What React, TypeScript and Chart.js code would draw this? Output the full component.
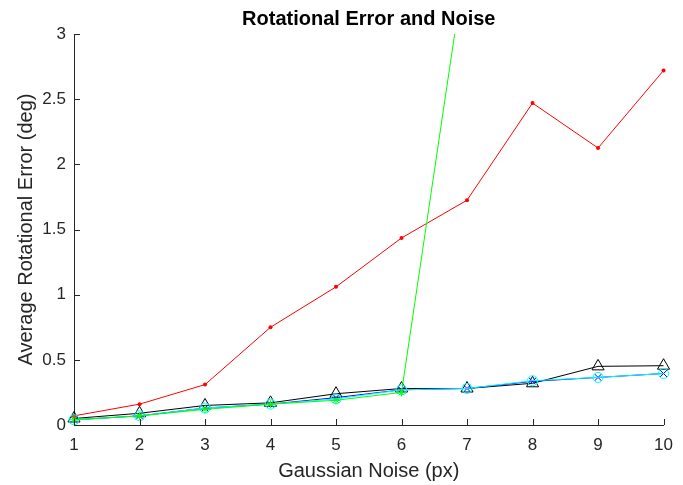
import React, { useEffect, useRef } from "react";
import { Chart, registerables } from "chart.js";

Chart.register(...registerables);

const noiseLevels = [1, 2, 3, 4, 5, 6, 7, 8, 9, 10];
const redValues = [0.07, 0.16, 0.31, 0.75, 1.06, 1.435, 1.725, 2.47, 2.125, 2.72];
const greenValues = [0.04, 0.07, 0.12, 0.16, 0.19, 0.25, 3.64, 4.6, 5.3, 6.0];
const blueValues = [0.04, 0.07, 0.13, 0.16, 0.21, 0.27, 0.28, 0.335, 0.365, 0.395];
const cyanValues = [0.04, 0.07, 0.13, 0.16, 0.2, 0.27, 0.28, 0.34, 0.365, 0.395];
const blackValues = [0.05, 0.09, 0.15, 0.17, 0.24, 0.28, 0.28, 0.32, 0.45, 0.455];

const titleText = "Rotational Error and Noise";
const xTitle = "Gaussian Noise (px)";
const yTitle = "Average Rotational Error (deg)";

const FONT = "'Liberation Sans', Arial, Helvetica, sans-serif";
const AXIS = "#262626";

const toPts = (vals: number[]) => noiseLevels.map((x, i) => ({ x, y: vals[i] }));

const innerTicks = {
  id: "innerTicks",
  afterDraw(chart: any) {
    const { ctx, chartArea, scales } = chart;
    ctx.save();
    ctx.strokeStyle = AXIS;
    ctx.lineWidth = 1;
    ctx.beginPath();
    scales.x.ticks.forEach((t: any) => {
      const px = Math.round(scales.x.getPixelForValue(t.value)) + 0.5;
      ctx.moveTo(px, chartArea.bottom);
      ctx.lineTo(px, chartArea.bottom - 6);
    });
    scales.y.ticks.forEach((t: any) => {
      const py = Math.round(scales.y.getPixelForValue(t.value)) + 0.5;
      ctx.moveTo(chartArea.left, py);
      ctx.lineTo(chartArea.left + 6, py);
    });
    ctx.stroke();
    ctx.fillStyle = "#000";
    ctx.font = `bold 20px ${FONT}`;
    ctx.textAlign = "center";
    ctx.textBaseline = "middle";
    ctx.fillText(titleText, (chartArea.left + chartArea.right) / 2, 19);
    ctx.restore();
  },
};

const fmt = (v: any) => String(Number(v));

export default function App() {
  const ref = useRef<HTMLCanvasElement | null>(null);
  useEffect(() => {
    document.body.style.margin = "0";
    const common = { borderWidth: 1, tension: 0 };
    const chart = new Chart(ref.current!, {
      type: "line",
      data: {
        datasets: [
          {
            ...common,
            label: "red",
            data: toPts(redValues),
            borderColor: "#ff0000",
            backgroundColor: "#ff0000",
            pointStyle: "circle",
            pointRadius: 2,
            pointBorderWidth: 0,
            clip: false as any,
            order: 5,
          },
          {
            ...common,
            label: "black",
            data: toPts(blackValues),
            borderColor: "#000000",
            backgroundColor: "rgba(0,0,0,0)",
            pointStyle: "triangle",
            pointRadius: 7,
            pointBorderWidth: 1,
            clip: false as any,
            order: 4,
          },
          {
            ...common,
            label: "blue",
            data: toPts(blueValues),
            borderColor: "#0000ff",
            backgroundColor: "rgba(0,0,0,0)",
            pointStyle: "crossRot",
            pointRadius: 5,
            pointBorderWidth: 1,
            clip: false as any,
            order: 3,
          },
          {
            ...common,
            label: "cyan",
            data: toPts(cyanValues),
            borderColor: "#00ffff",
            backgroundColor: "rgba(0,0,0,0)",
            pointStyle: "circle",
            pointRadius: 5,
            pointBorderWidth: 1,
            clip: false as any,
            order: 2,
          },
          {
            ...common,
            label: "green",
            data: toPts(greenValues),
            borderColor: "#00ff00",
            backgroundColor: "rgba(0,0,0,0)",
            pointStyle: "star",
            pointRadius: 4,
            pointBorderWidth: 1,
            clip: { left: 8, right: 8, top: 0, bottom: 8 } as any,
            order: 1,
          },
        ],
      },
      options: {
        animation: false,
        responsive: false,
        maintainAspectRatio: false,
        layout: { padding: { top: 34, right: 19, left: 0, bottom: 0 } },
        plugins: { legend: { display: false }, tooltip: { enabled: false }, title: { display: false } },
        scales: {
          x: {
            type: "linear",
            min: 1,
            max: 10,
            ticks: { stepSize: 1, color: AXIS, font: { family: FONT, size: 17 }, padding: 10, callback: fmt },
            grid: { display: false, drawTicks: false },
            border: { display: true, color: AXIS, width: 1 },
            title: {
              display: true,
              text: xTitle,
              color: AXIS,
              font: { family: FONT, size: 20 },
              padding: { top: 0, bottom: 2 },
            },
            afterFit: (s: any) => {
              s.height = 60;
            },
          },
          y: {
            type: "linear",
            min: 0,
            max: 3,
            ticks: { stepSize: 0.5, color: AXIS, font: { family: FONT, size: 17 }, padding: 8, callback: fmt },
            grid: { display: false, drawTicks: false },
            border: { display: true, color: AXIS, width: 1 },
            title: {
              display: true,
              text: yTitle,
              color: AXIS,
              font: { family: FONT, size: 20 },
              padding: { top: 14, bottom: 0 },
            },
            afterFit: (s: any) => {
              s.width = 74;
            },
          },
        },
      },
      plugins: [innerTicks],
    });
    return () => chart.destroy();
  }, []);
  return (
    <div style={{ width: 683, height: 485, background: "#fff" }}>
      <canvas ref={ref} width={683} height={485} />
    </div>
  );
}
